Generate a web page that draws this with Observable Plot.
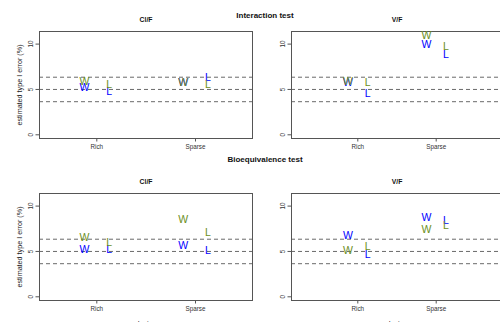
<!DOCTYPE html>
<html><head><meta charset="utf-8">
<script src="https://cdn.jsdelivr.net/npm/d3@7"></script>
<script src="https://cdn.jsdelivr.net/npm/@observablehq/plot@0.6"></script>
<style>
html,body{margin:0;padding:0;background:#fff;overflow:hidden;width:500px;height:322px;}
#chart{position:relative;width:500px;height:322px;overflow:hidden;font-family:"Liberation Sans",Arial,sans-serif;}
#chart svg{position:absolute;}
</style></head><body><div id="chart"></div>
<script>
const tests = ["Interaction test", "Bioequivalence test"];
const params = ["Cl/F", "V/F"];
const designs = ["Rich", "Sparse"];
const letters = ["W", "L"];
const refLines = [3.65, 5, 6.35];
const yTicks = [0, 5, 10];
const yLabel = "estimated type I error (%)";
const xLabel = "design";
// order of values: Rich W, Rich L, Sparse W, Sparse L
const interactionCl_olive = [5.87, 5.52, 5.73, 5.58];
const interactionCl_blue  = [5.20, 4.80, 5.73, 6.35];
const interactionV_olive  = [5.90, 5.80, 10.90, 9.77];
const interactionV_blue   = [5.75, 4.59, 9.99, 8.82];
const bioCl_olive = [6.50, 6.00, 8.55, 7.07];
const bioCl_blue  = [5.23, 5.17, 5.59, 5.10];
const bioV_olive  = [5.04, 5.50, 7.40, 7.83];
const bioV_blue   = [6.70, 4.63, 8.73, 8.36];

const OLIVE = "#6b8e23", BLUE = "#0000ff";
const FONT = "Liberation Sans, Arial, sans-serif";
const OFF = 0.125;

function rowsOf(vals) {
  return vals.map((v, i) => ({design: Math.floor(i / 2), letter: letters[i % 2], value: v}));
}

function panel(o) {
  const xAcc = d => d.design + 1 + (d.letter === "W" ? -OFF : OFF);
  const marks = [
    Plot.ruleY(refLines, {stroke: "#6a6a6a", strokeDasharray: "4,3"}),
    Plot.frame({stroke: "#555"}),
    Plot.axisX({ticks: [1, 2], tickSize: 3.5, tickPadding: 3, tickFormat: d => designs[d - 1], fontSize: 6.3, stroke: "#555", fill: "#333", label: null}),
    Plot.axisY({ticks: yTicks, tickSize: 3.5, tickFormat: () => "", stroke: "#555", label: null}),
    Plot.text(yTicks, {y: d => d, text: d => String(d), frameAnchor: "left", dx: -6.7, rotate: -90, textAnchor: "middle", lineAnchor: "bottom", fontSize: 6.3, fill: "#333"}),
    Plot.text([o.title], {frameAnchor: "top", dy: -10, lineAnchor: "bottom", fontWeight: "bold", fontSize: 6.8, fill: "#111"}),
    Plot.text(rowsOf(o.blue), {x: xAcc, y: "value", text: "letter", fill: BLUE, fontSize: 10.5, textAnchor: "middle", lineAnchor: "middle"}),
    Plot.text(rowsOf(o.olive), {x: xAcc, y: "value", text: "letter", fill: OLIVE, fontSize: 10.5, textAnchor: "middle", lineAnchor: "middle"})
  ];
  if (o.yLab) marks.push(Plot.text([yLabel], {frameAnchor: "left", dx: -17.5, rotate: -90, textAnchor: "middle", lineAnchor: "bottom", fontSize: 7.2, fill: "#222"}));
  if (o.xLab) marks.push(Plot.text([xLabel], {frameAnchor: "bottom", dy: 25, lineAnchor: "bottom", fontSize: 7.2, fill: "#222"}));
  const svg = Plot.plot({
    width: o.width, height: o.height,
    marginLeft: o.mL, marginRight: o.mR, marginTop: o.mT, marginBottom: o.mB,
    x: {type: "linear", domain: [1, 2], range: o.xRange},
    y: {type: "linear", domain: [0, 10], range: o.yRange},
    style: {fontFamily: FONT, background: "transparent", overflow: "visible"},
    marks
  });
  svg.style.left = o.left + "px";
  svg.style.top = o.top + "px";
  document.getElementById("chart").appendChild(svg);
}

const topGeom = {top: 0, height: 160, mT: 31, mB: 22, yRange: [134.3, 43.6]};
const botGeom = {top: 160, height: 170, mT: 33, mB: 30, yRange: [136.3, 45.6]};
const leftGeom = {left: 0, width: 260, mL: 39, mR: 8, xRange: [96.3, 195]};
const rightGeom = {left: 260, width: 252, mL: 31, mR: 10, xRange: [97.3, 175.7]};

panel({...topGeom, ...leftGeom, title: params[0], olive: interactionCl_olive, blue: interactionCl_blue, yLab: true});
panel({...topGeom, ...rightGeom, title: params[1], olive: interactionV_olive, blue: interactionV_blue});
panel({...botGeom, ...leftGeom, title: params[0], olive: bioCl_olive, blue: bioCl_blue, yLab: true, xLab: true});
panel({...botGeom, ...rightGeom, title: params[1], olive: bioV_olive, blue: bioV_blue, xLab: true});

const ov = d3.select("#chart").append("svg")
  .attr("width", 500).attr("height", 322)
  .style("left", "0px").style("top", "0px").style("pointer-events", "none");
[[tests[0], 18.3], [tests[1], 161.5]].forEach(([t, y]) => {
  ov.append("text").attr("x", 265).attr("y", y).attr("text-anchor", "middle")
    .attr("font-family", FONT).attr("font-weight", "bold").attr("font-size", 8).attr("fill", "#111").text(t);
});
</script></body></html>
